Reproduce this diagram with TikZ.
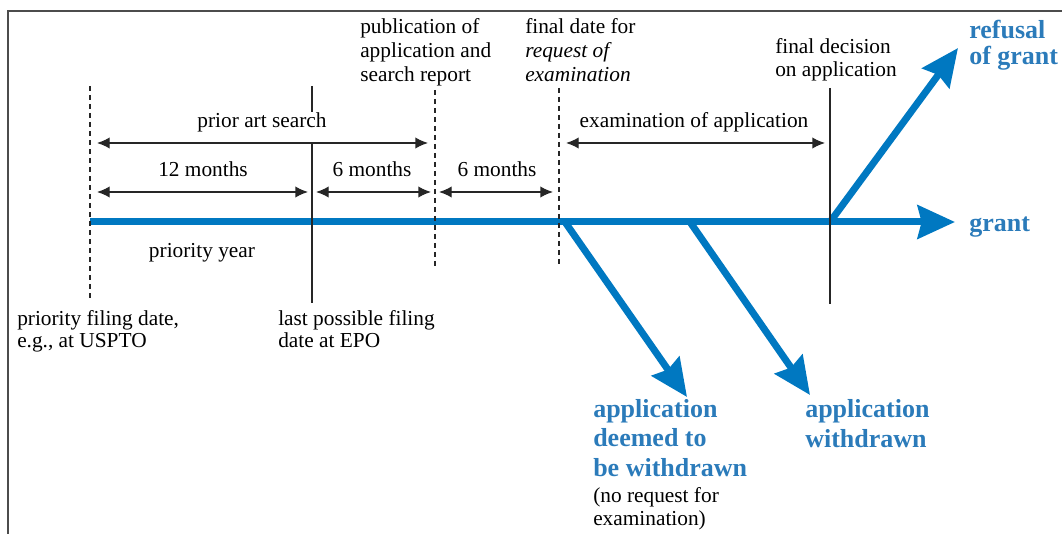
\documentclass[tikz,border=0pt]{standalone}
\usepackage{fontspec}
\setmainfont{Liberation Serif}
\usetikzlibrary{arrows.meta}
\definecolor{epoblue}{RGB}{0,120,193}
\definecolor{epotext}{RGB}{43,123,186}
\begin{document}
\begin{tikzpicture}[x=0.75pt,y=-0.75pt,
  lbltop/.style={font=\fontsize{16pt}{18pt}\selectfont, inner sep=0pt, align=left, anchor=base west},
  lblbot/.style={font=\fontsize{16pt}{16pt}\selectfont, inner sep=0pt, align=left, anchor=base west},
  lblc/.style={font=\fontsize{16pt}{18pt}\selectfont, inner sep=0pt, anchor=base},
  outcome/.style={font=\fontsize{19.5pt}{22pt}\selectfont\bfseries, text=epotext, inner sep=0pt, align=left, anchor=base west},
  solidmark/.style={line width=1pt, black!85},
  dashmark/.style={line width=1pt, black!85, dash pattern=on 3.75pt off 3pt},
  span/.style={line width=1pt, black!85, {Latex[length=9.5pt,width=8.5pt]}-{Latex[length=9.5pt,width=8.5pt]}},
  flow/.style={line width=5.25pt, epoblue, -{Stealth[length=28pt,width=25pt,inset=3pt]}},
  frameline/.style={line width=1.1pt, black!70}
]
\useasboundingbox (0,0) rectangle (1062,534);
% frame
\coordinate (fbl) at (8,534);
\coordinate (ftl) at (8,11);
\coordinate (ftr) at (1062,11);
\draw[frameline] (fbl) -- (ftl) -- (ftr);

% timeline points
\coordinate (p0) at (90,222);
\coordinate (p3) at (565,222);
\coordinate (pw) at (690,222);
\coordinate (p4) at (830,222);
\coordinate (gtip) at (955,222);
\coordinate (rtip) at (958,48);
\coordinate (dtip) at (687,397);
\coordinate (wtip) at (810,395);

% blue flows
\draw[flow] (p0) -- (gtip);
\draw[flow] (p4) -- (rtip);
\draw[flow] (p3) -- (dtip);
\draw[flow] (pw) -- (wtip);

% vertical markers
\coordinate (v0t) at (90,86);   \coordinate (v0b) at (90,300);
\coordinate (v1t) at (312,86);  \coordinate (v1m) at (312,112);
\coordinate (v1n) at (312,143); \coordinate (v1b) at (312,303);
\coordinate (v2t) at (435,90);  \coordinate (v2b) at (435,267);
\coordinate (v3t) at (559,88);  \coordinate (v3b) at (559,266);
\coordinate (v4t) at (830,88);  \coordinate (v4b) at (830,304);
\draw[dashmark] (v0t) -- (v0b);
\draw[solidmark] (v1t) -- (v1m);
\draw[solidmark] (v1n) -- (v1b);
\draw[dashmark] (v2t) -- (v2b);
\draw[dashmark] (v3t) -- (v3b);
\draw[solidmark] (v4t) -- (v4b);

% spans
\coordinate (a1l) at (97,143);  \coordinate (a1r) at (428,143);
\coordinate (a2l) at (97,192);  \coordinate (a2r) at (308,192);
\coordinate (a3l) at (316,192); \coordinate (a3r) at (431,192);
\coordinate (a4l) at (439,192); \coordinate (a4r) at (553,192);
\coordinate (a5l) at (566,143); \coordinate (a5r) at (825,143);
\draw[span] (a1l) -- (a1r);
\draw[span] (a2l) -- (a2r);
\draw[span] (a3l) -- (a3r);
\draw[span] (a4l) -- (a4r);
\draw[span] (a5l) -- (a5r);

% span labels
\node[lblc] (tpas) at (262,128) {prior art search};
\node[lblc] (t12) at (203,177) {12 months};
\node[lblc] (t6a) at (372,177) {6 months};
\node[lblc] (t6b) at (497,177) {6 months};
\node[lblc] (texa) at (694,128) {examination of application};
\node[lblc] (tpy) at (202,258) {priority year};

% event labels (anchor = baseline of last line)
\node[lbltop] (tpub) at (360,82) {publication of\\application and\\search report};
\node[lbltop] (tfdr) at (525,82) {final date for\\\textit{request of}\\\textit{examination}};
\node[lbltop, font=\fontsize{16pt}{17.25pt}\selectfont] (tfdc) at (775,77) {final decision\\on application};
\node[lblbot] (tpfd) at (17,347) {priority filing date,\\e.g., at USPTO};
\node[lblbot] (tlpf) at (278,347) {last possible filing\\date at EPO};

% outcomes
\node[outcome, font=\fontsize{19.5pt}{19.5pt}\selectfont\bfseries] (oref) at (969,65) {refusal\\of grant};
\node[outcome] (ogr) at (969,232) {grant};
\node[outcome] (odee) at (593,476) {application\\deemed to\\be withdrawn};
\node[lblbot, font=\fontsize{16pt}{17.25pt}\selectfont] (odnote) at (593,525) {(no request for\\examination)};
\node[outcome] (owd) at (805,447) {application\\withdrawn};
\end{tikzpicture}
\end{document}
